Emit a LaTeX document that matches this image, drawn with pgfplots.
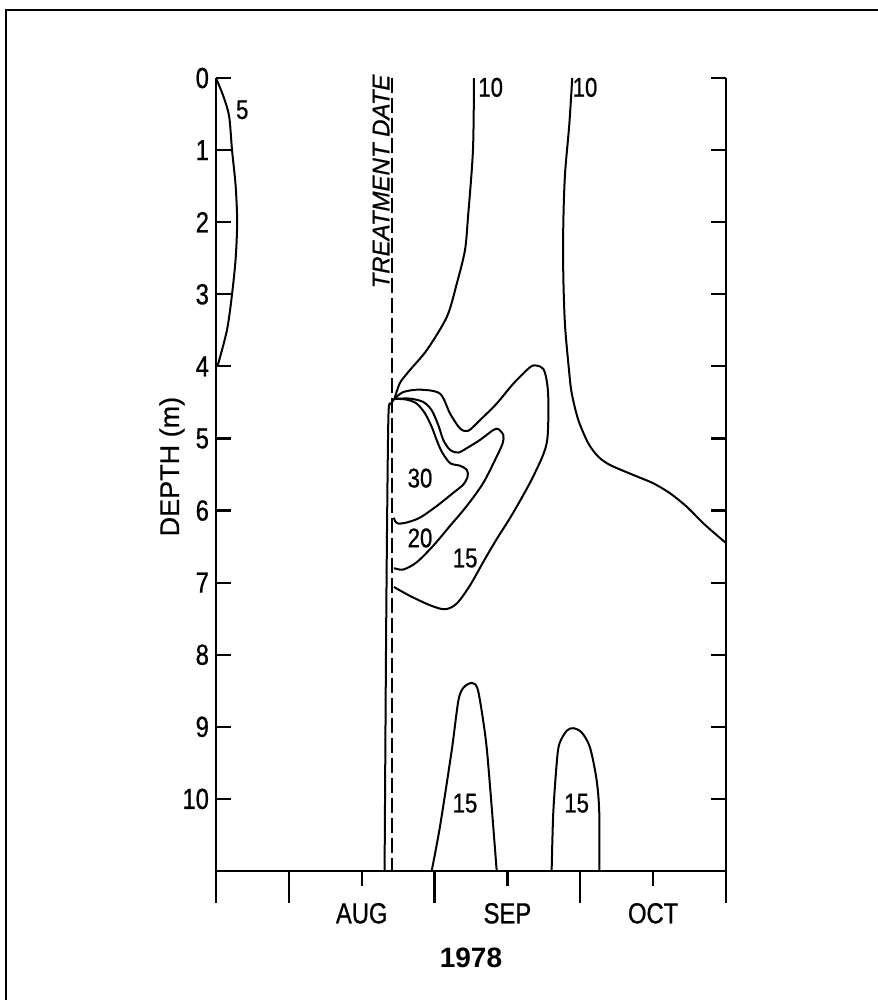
\documentclass[border=0pt]{standalone}
\usepackage{fontspec}
\setmainfont{Liberation Sans}
\newfontfamily\numfont{Liberation Sans}[FakeStretch=0.82, FakeBold=0.8]
\newfontfamily\lblfont{Liberation Sans}[FakeBold=0.6]
\usepackage{pgfplots}
\pgfplotsset{compat=1.18}
\begin{document}
\begin{tikzpicture}
\path[use as bounding box] (0,0) rectangle (439pt,-501pt);
\draw[line width=1.2pt] (442pt,-5pt) -- (3pt,-5pt) -- (3pt,-500pt);
\begin{axis}[
  at={(108pt,-435.5pt)}, anchor=south west,
  scale only axis, width=255pt, height=396.5pt,
  xmin=0, xmax=7, ymin=-11, ymax=0,
  y filter/.expression={-y},
  axis x line=bottom, axis y line=box,
  axis line style={-, line width=1.3pt},
  x axis line style={-}, y axis line style={-},
  xtick align=outside, ytick align=inside,
  major tick length=7.5pt,
  tick style={line width=1.1pt, black},
  xtick={2,4,6}, xticklabels={AUG,SEP,OCT},
  extra x ticks={0,1,3,5,7},
  extra x tick labels={\empty,\empty,\empty,\empty,\empty},
  extra x tick style={major tick length=16pt},
  ytick={-10,-9,...,0},
  yticklabels={10,9,8,7,6,5,4,3,2,1,0},
  yticklabel style={font=\numfont\fontsize{14.5}{14.5}\selectfont},
  xticklabel style={font=\numfont\fontsize{14.5}{14.5}\selectfont, yshift=-5pt},
  xlabel={1978},
  xlabel style={font=\bfseries\fontsize{14}{14}\selectfont, at={(axis description cs:0.5,0)}, anchor=center, yshift=-43.5pt},
  ylabel={DEPTH (m)},
  ylabel style={font=\lblfont\fontsize{13.5}{14}\selectfont, at={(axis description cs:0,0.51)}, anchor=center, rotate=0, yshift=22pt},
  clip=false,
]
% treatment date
\addplot[black, line width=1pt, dash pattern=on 7.5pt off 2.5pt] coordinates {(2.42,0) (2.42,11)};
% contour 5
\addplot[smooth, black, line width=1pt] coordinates {
(0,0) (0.10,0.25) (0.18,0.53) (0.22,1.0) (0.27,1.5) (0.29,2.0) (0.27,2.5) (0.22,3.0) (0.15,3.5) (0.02,4.0)};
% contour 10 upper left
\addplot[smooth, black, line width=1pt] coordinates {
(3.541,0) (3.527,1.0) (3.459,1.93) (3.417,2.39) (3.308,2.84) (3.170,3.31) (2.896,3.77) (2.663,4.05) (2.525,4.23) (2.45,4.45)};
% contour 10 vertical
\addplot[smooth, black, line width=1pt] coordinates {
(2.45,4.45) (2.40,4.52) (2.368,4.65) (2.35,6.0) (2.333,8.0) (2.314,11)};
% contour 15
\addplot[smooth, black, line width=1pt] coordinates {
(2.45,4.45) (2.571,4.356) (2.800,4.323) (3.074,4.378) (3.212,4.653) (3.349,4.860) (3.463,4.893) (3.623,4.746) (3.853,4.516) (4.080,4.241) (4.310,4.012) (4.402,3.989) (4.492,4.034) (4.539,4.195) (4.561,4.470) (4.539,5.066) (4.355,5.525) (4.080,6.029) (3.853,6.396) (3.692,6.671) (3.486,7.039) (3.304,7.290) (3.143,7.369) (2.937,7.313) (2.663,7.184) (2.443,7.061)};
% contour 20
\addplot[smooth, black, line width=1pt] coordinates {
(2.45,4.45) (2.663,4.447) (2.845,4.494) (2.960,4.608) (3.051,4.814) (3.120,5.021) (3.212,5.158) (3.326,5.195) (3.441,5.135) (3.623,5.021) (3.806,4.883) (3.875,4.870) (3.943,4.952) (3.935,5.066) (3.853,5.250) (3.669,5.616) (3.441,5.938) (3.212,6.213) (2.982,6.488) (2.755,6.717) (2.571,6.818) (2.443,6.799)};
% contour 30
\addplot[smooth, black, line width=1pt] coordinates {
(2.45,4.45) (2.617,4.461) (2.755,4.516) (2.869,4.653) (2.960,4.837) (3.029,5.021) (3.098,5.182) (3.212,5.341) (3.349,5.378) (3.441,5.433) (3.455,5.525) (3.394,5.640) (3.257,5.754) (3.029,5.938) (2.800,6.098) (2.617,6.166) (2.502,6.180) (2.457,6.144) (2.443,6.098)};
% contour 10 right
\addplot[smooth, black, line width=1pt] coordinates {
(4.890,0) (4.849,0.648) (4.790,1.341) (4.767,2.034) (4.767,2.728) (4.790,3.421) (4.845,4.050) (4.882,4.369) (4.973,4.743) (5.110,5.067) (5.247,5.252) (5.408,5.368) (5.727,5.506) (6.002,5.622) (6.231,5.760) (6.460,5.946) (6.688,6.176) (6.872,6.34) (7.0,6.45)};
% bottom bump 1
\addplot[smooth, black, line width=1pt] coordinates {
(2.960,11) (3.074,10.385) (3.235,9.330) (3.326,8.642) (3.394,8.459) (3.509,8.391) (3.586,8.459) (3.647,8.780) (3.715,9.285) (3.784,10.110) (3.853,11)};
% bottom bump 2
\addplot[smooth, black, line width=1pt] coordinates {
(4.607,11) (4.629,10.202) (4.676,9.514) (4.712,9.239) (4.813,9.055) (4.904,9.019) (5.019,9.078) (5.133,9.285) (5.225,9.743) (5.261,10.202) (5.261,11)};
% labels
\node[font=\numfont\fontsize{13.5}{13.5}\selectfont] at (axis cs:0.36,-0.44) {5};
\node[font=\numfont\fontsize{13.5}{13.5}\selectfont] at (axis cs:3.77,-0.13) {10};
\node[font=\numfont\fontsize{13.5}{13.5}\selectfont] at (axis cs:5.065,-0.13) {10};
\node[font=\numfont\fontsize{13.5}{13.5}\selectfont] at (axis cs:2.80,-5.55) {30};
\node[font=\numfont\fontsize{13.5}{13.5}\selectfont] at (axis cs:2.80,-6.38) {20};
\node[font=\numfont\fontsize{13.5}{13.5}\selectfont] at (axis cs:3.42,-6.66) {15};
\node[font=\numfont\fontsize{13.5}{13.5}\selectfont] at (axis cs:3.418,-10.06) {15};
\node[font=\numfont\fontsize{13.5}{13.5}\selectfont] at (axis cs:4.950,-10.06) {15};
\node[font=\lblfont\itshape\fontsize{12}{12}\selectfont, rotate=90] at (axis cs:2.265,-1.435) {TREATMENT DATE};
\end{axis}
\end{tikzpicture}
\end{document}
